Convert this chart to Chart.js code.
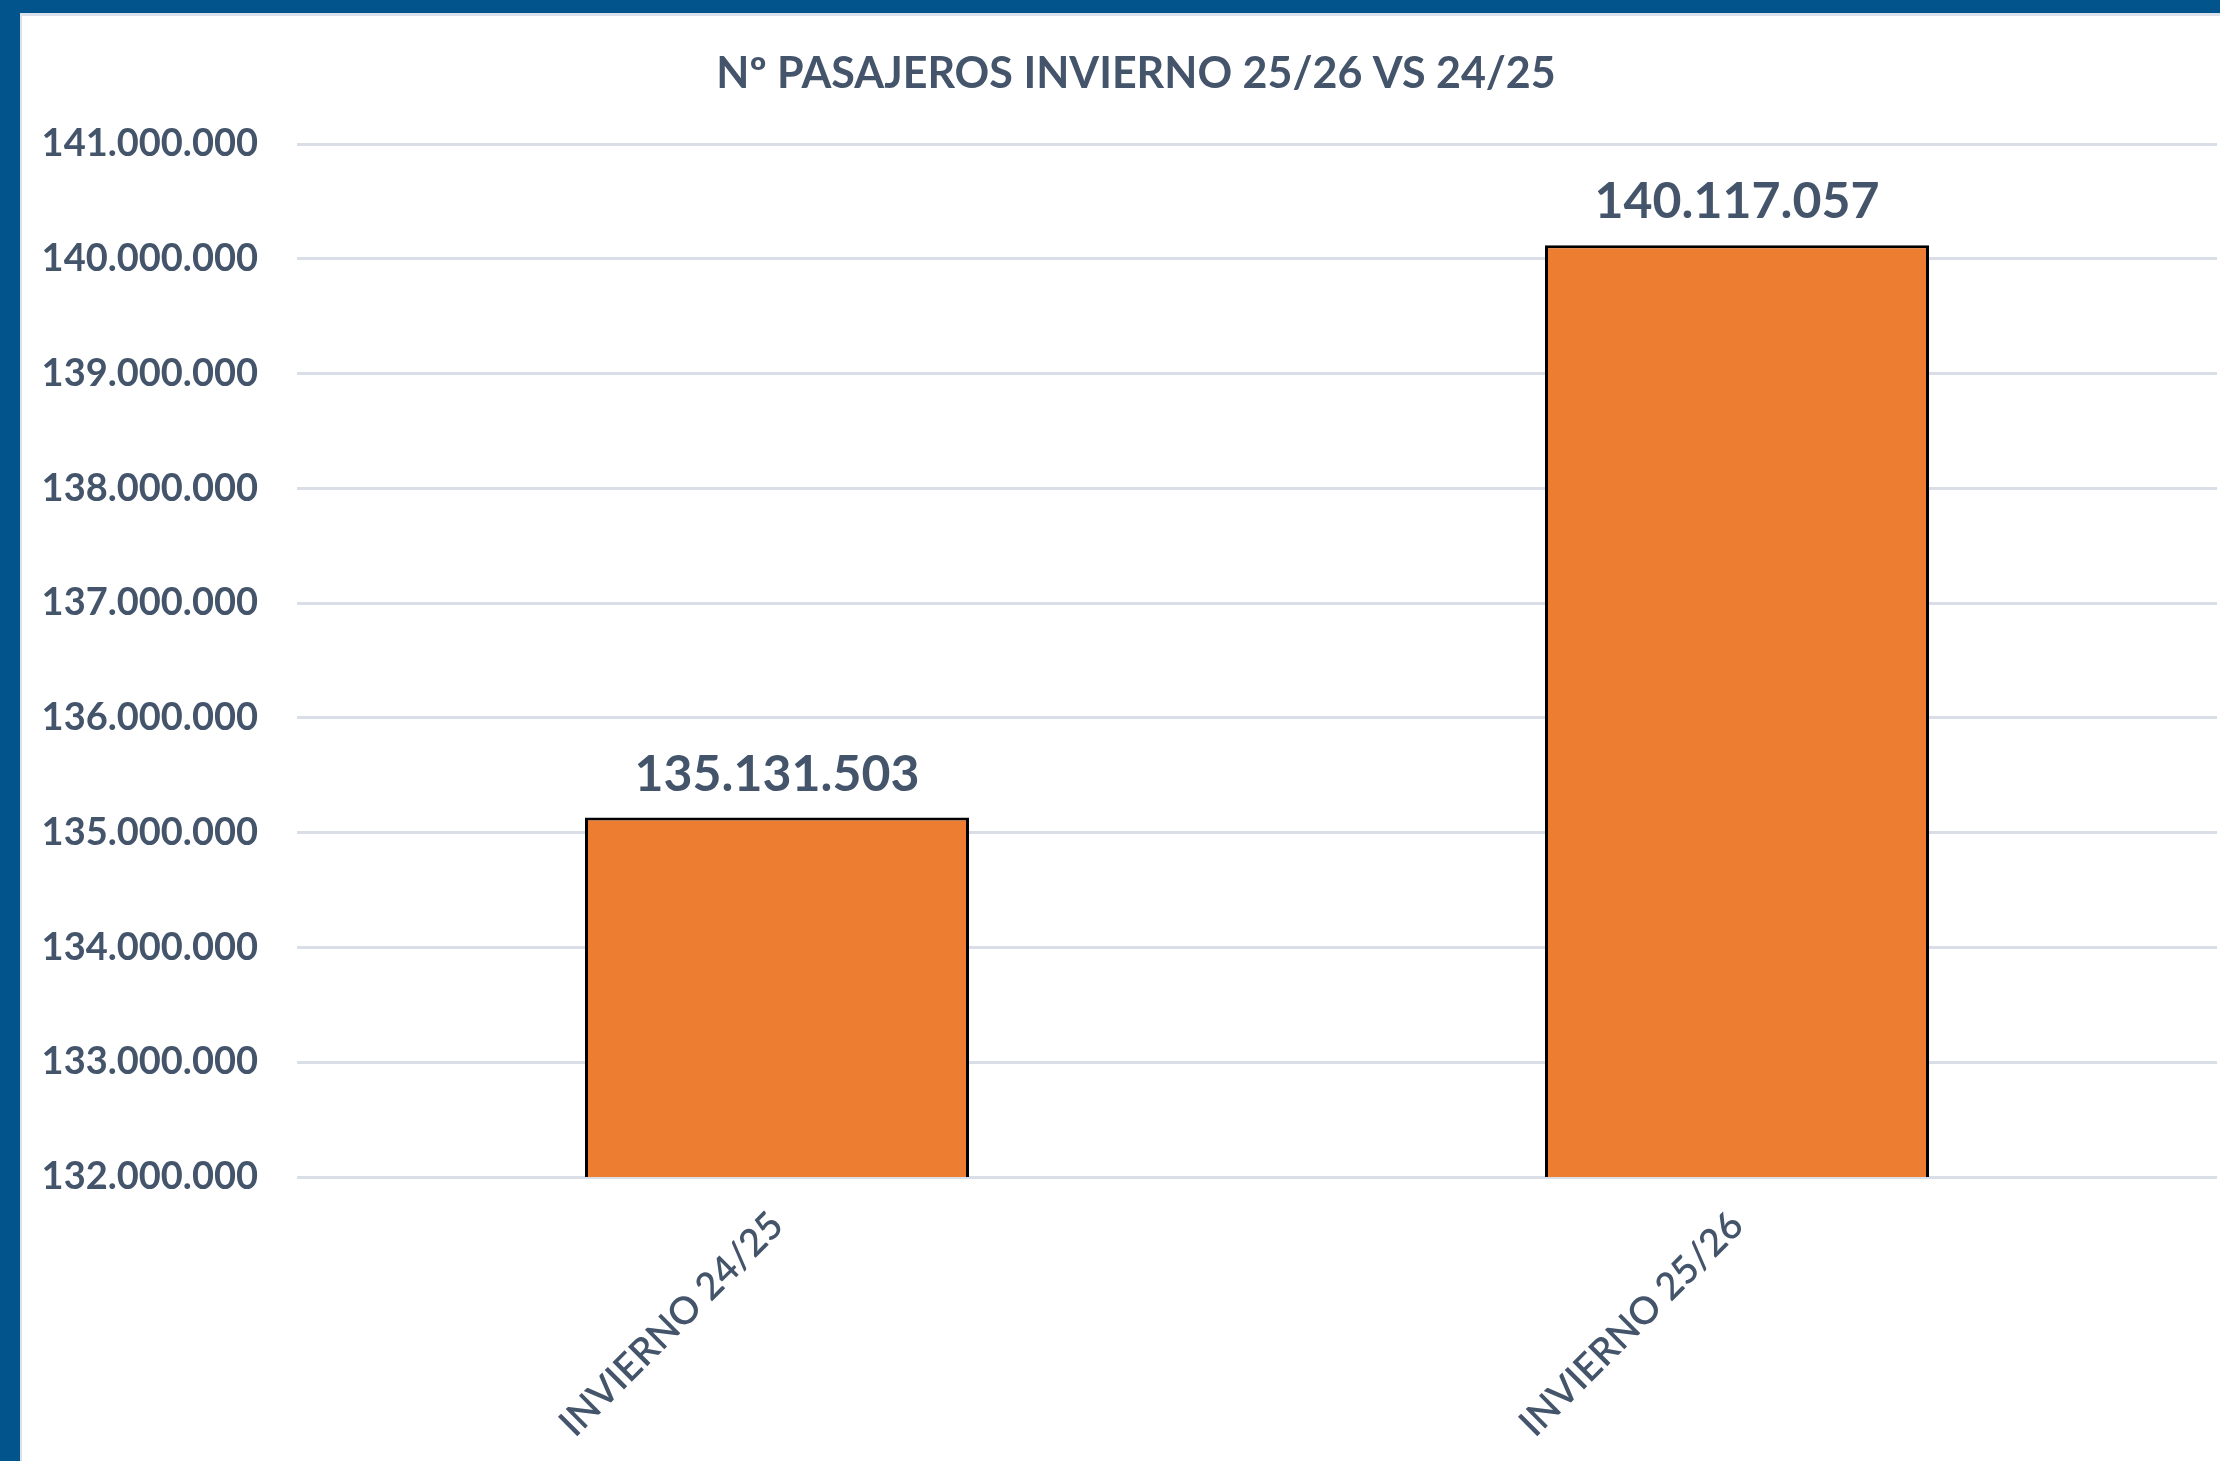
<!DOCTYPE html>
<html>
<head>
<meta charset="utf-8">
<script src="https://cdn.jsdelivr.net/npm/chart.js@4.4.1/dist/chart.umd.min.js"></script>
<style>
  html, body { margin: 0; padding: 0; }
  body { width: 2220px; height: 1461px; background: #02548c; overflow: hidden; position: relative; }
  #frame { position: absolute; left: 20px; top: 13px; width: 2200px; height: 1448px; background: #fff; box-shadow: inset 2px 3px 0 #dbe1ea; }
  canvas { display: block; }
</style>
</head>
<body>
<div id="frame"><canvas id="chart" width="2200" height="1448"></canvas></div>
<script>
const categories = ["INVIERNO 24/25", "INVIERNO 25/26"];
const passengers = [135131503, 140117057];
const yMin = 132000000;
const yMax = 141000000;
const yStep = 1000000;
const chartTitle = "Nº PASAJEROS INVIERNO 25/26 VS 24/25";

const textColor = "#44546A";
const fontFamily = "Lato, 'Open Sans', sans-serif";

// 141000000 -> "141.000.000"
function dots(n) {
  return String(Math.round(n)).replace(/\B(?=(\d{3})+(?!\d))/g, ".");
}

// title, a bit right of the canvas centre like the original
const titleText = {
  id: "titleText",
  afterDraw(chart) {
    const ctx = chart.ctx;
    ctx.save();
    ctx.font = `bold 43px ${fontFamily}`;
    ctx.fillStyle = textColor;
    ctx.textAlign = "center";
    ctx.textBaseline = "middle";
    ctx.fillText(chartTitle, chart.width / 2 + 16, 61);
    ctx.restore();
  }
};

// value labels above the bars
const barLabels = {
  id: "barLabels",
  afterDatasetsDraw(chart) {
    const ctx = chart.ctx;
    const meta = chart.getDatasetMeta(0);
    ctx.save();
    ctx.font = `bold 50px ${fontFamily}`;
    ctx.fillStyle = textColor;
    ctx.textAlign = "center";
    ctx.textBaseline = "middle";
    meta.data.forEach((bar, i) => {
      ctx.fillText(dots(passengers[i]), bar.x, bar.y - 43);
    });
    ctx.restore();
  }
};

const ctx = document.getElementById("chart").getContext("2d");
new Chart(ctx, {
  type: "bar",
  data: {
    labels: categories,
    datasets: [{
      data: passengers,
      backgroundColor: "#ED7D31",
      borderColor: "#000000",
      borderWidth: 3,
      categoryPercentage: 1,
      barPercentage: 0.4
    }]
  },
  options: {
    responsive: false,
    animation: false,
    layout: { padding: { left: 0, right: 3, top: 131, bottom: 0 } },
    plugins: {
      legend: { display: false },
      tooltip: { enabled: false },
      title: { display: false }
    },
    scales: {
      x: {
        grid: { display: false },
        border: { display: false },
        ticks: {
          color: textColor,
          font: { family: fontFamily, size: 38, weight: "600" },
          maxRotation: 45,
          minRotation: 45,
          padding: 18
        },
        afterFit(scale) { scale.height = 284; }
      },
      y: {
        min: yMin,
        max: yMax,
        grid: { color: "#D9DEE7", lineWidth: 3, drawTicks: false },
        border: { display: false },
        ticks: {
          stepSize: yStep,
          color: textColor,
          font: { family: fontFamily, size: 38, weight: "bold" },
          padding: 39,
          callback: v => dots(v)
        },
        afterFit(scale) { scale.width = 277; }
      }
    }
  },
  plugins: [barLabels, titleText]
});
</script>
</body>
</html>
